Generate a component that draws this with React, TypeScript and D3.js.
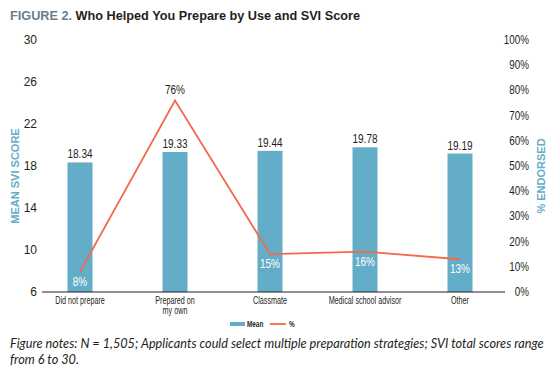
import React from "react";
import * as d3 from "d3";

const categories = ["Did not prepare", "Prepared on\nmy own", "Classmate", "Medical school advisor", "Other"];
const meanScores = [18.34, 19.33, 19.44, 19.78, 19.19];
const pctEndorsed = [8, 76, 15, 16, 13];
const leftTicks = [6, 10, 14, 18, 22, 26, 30];
const rightTicks = [0, 10, 20, 30, 40, 50, 60, 70, 80, 90, 100];

const W = 555;
const H = 372;
const BAR = "#63adc9";
const LINE = "#f26a4b";
const SANS = "'Liberation Sans', Arial, sans-serif";

function NT(props: {
  x: number;
  y: number;
  size: number;
  sx?: number;
  anchor?: string;
  fill?: string;
  weight?: string;
  children: React.ReactNode;
}) {
  const { x, y, size, sx = 0.78, anchor = "middle", fill = "#231f20", weight = "normal", children } = props;
  return (
    <g transform={`translate(${x},${y}) scale(${sx},1)`}>
      <text x={0} y={0} textAnchor={anchor} fontFamily={SANS} fontSize={size} fill={fill} fontWeight={weight}>
        {children}
      </text>
    </g>
  );
}

export default function App() {
  const x = d3
    .scaleBand<string>()
    .domain(categories)
    .range([32.5, 507.5])
    .paddingInner(0.737)
    .paddingOuter(0.3685);
  const yL = d3.scaleLinear().domain([6, 30]).range([292, 40]);
  const yR = d3.scaleLinear().domain([0, 100]).range([292, 40]);
  const cx = (c: string) => (x(c) as number) + x.bandwidth() / 2;

  const line = d3
    .line<number>()
    .x((_, i) => cx(categories[i]))
    .y((d) => yR(d))
    .curve(d3.curveLinear);

  const maxPct = d3.max(pctEndorsed);

  return (
    <svg width={W} height={H} style={{ position: "absolute", left: 0, top: 0 }}>
      <rect width={W} height={H} fill="#fff" />
      <text x={10} y={20} fontFamily={SANS} fontWeight="bold" fontSize={12.7}>
        <tspan fill="#6a7e8e">FIGURE 2. </tspan>
        <tspan fill="#231f20">Who Helped You Prepare by Use and SVI Score</tspan>
      </text>

      {/* left ticks */}
      {leftTicks.map((t) => (
        <text key={"l" + t} x={37} y={yL(t) + 4} textAnchor="end" fontFamily={SANS} fontSize={12} fill="#231f20">
          {t}
        </text>
      ))}
      {/* right ticks */}
      {rightTicks.map((t) => (
        <NT key={"r" + t} x={529} y={yR(t) + 4} size={12} sx={0.82} anchor="end">
          {t + "%"}
        </NT>
      ))}

      <text
        transform={`translate(19,${(yL(6) + yL(30)) / 2 + 10}) rotate(-90)`}
        textAnchor="middle"
        fontFamily={SANS}
        fontWeight="bold"
        fontSize={11}
        fill="#63adc9"
      >
        MEAN SVI SCORE
      </text>
      <text
        transform={`translate(545,${(yR(0) + yR(100)) / 2 + 10}) rotate(-90)`}
        textAnchor="middle"
        fontFamily={SANS}
        fontWeight="bold"
        fontSize={11}
        fill="#63adc9"
      >
        % ENDORSED
      </text>

      {/* bars */}
      {categories.map((c, i) => (
        <g key={"b" + i}>
          <rect x={x(c)} y={yL(meanScores[i])} width={x.bandwidth()} height={yL(6) - yL(meanScores[i])} fill={BAR} />
          <NT x={cx(c)} y={yL(meanScores[i]) - 4} size={12.5} sx={0.8}>
            {meanScores[i].toFixed(2)}
          </NT>
        </g>
      ))}

      {/* baseline */}
      <line x1={42} x2={505} y1={292} y2={292} stroke="#231f20" strokeWidth={1} />

      {/* line */}
      <path d={line(pctEndorsed) || ""} fill="none" stroke={LINE} strokeWidth={1.8} />

      {/* pct labels */}
      {categories.map((c, i) => {
        const v = pctEndorsed[i];
        const peak = v === maxPct;
        return (
          <NT key={"p" + i} x={cx(c)} y={peak ? yR(v) - 6 : yR(v) + 14} size={12.5} sx={0.8} fill={peak ? "#231f20" : "#ffffff"}>
            {v + "%"}
          </NT>
        );
      })}

      {/* category labels */}
      {categories.map((c, i) =>
        c.split("\n").map((s, j) => (
          <NT key={"c" + i + "_" + j} x={cx(c)} y={304 + j * 10} size={10} sx={0.72}>
            {s}
          </NT>
        ))
      )}

      {/* legend */}
      <rect x={230} y={322} width={15} height={4} fill={BAR} />
      <NT x={247} y={327} size={8.5} sx={0.75} anchor="start" weight="bold">
        Mean
      </NT>
      <line x1={270} x2={286} y1={324} y2={324} stroke={LINE} strokeWidth={1.8} />
      <NT x={289} y={327} size={8.5} sx={0.75} anchor="start" weight="bold">
        %
      </NT>

      {/* notes */}
      <text fontFamily="Lato, 'Liberation Sans', sans-serif" fontStyle="italic" fontSize={12.7} fill="#231f20">
        <tspan x={10} y={348}>
          Figure notes: N = 1,505; Applicants could select multiple preparation strategies; SVI total scores range
        </tspan>
        <tspan x={10} y={364}>
          from 6 to 30.
        </tspan>
      </text>
    </svg>
  );
}
